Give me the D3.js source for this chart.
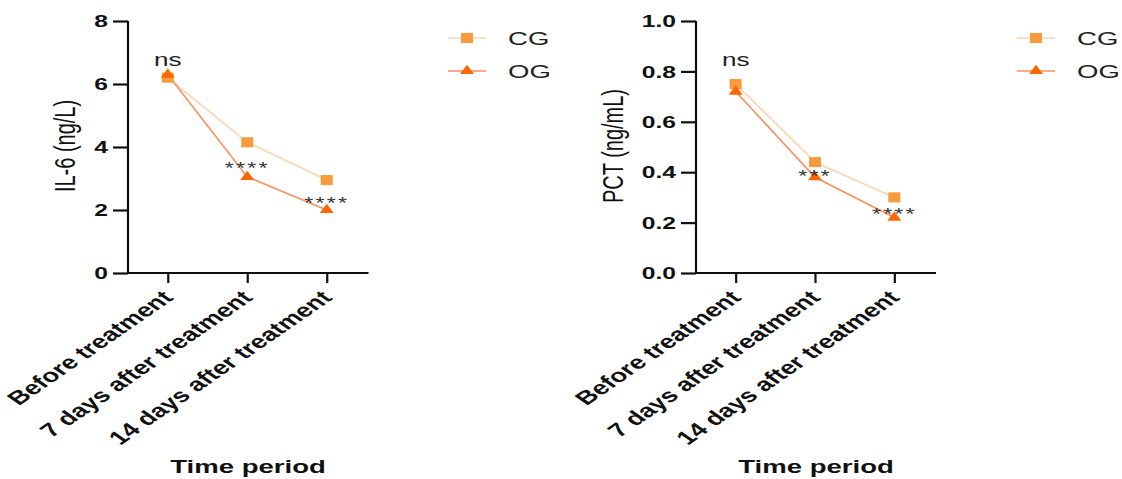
<!DOCTYPE html>
<html>
<head>
<meta charset="utf-8">
<script src="https://cdn.jsdelivr.net/npm/d3@7"></script>
<style>
  html, body { margin: 0; padding: 0; background: #fff; }
  svg { display: block; font-family: "Liberation Sans", Arial, sans-serif; }
</style>
</head>
<body>
<svg id="chart" width="1122" height="479"></svg>
<script>
// ---- data ----
const categories = ["Before treatment", "7 days after treatment", "14 days after treatment"];
const seriesNames = ["CG", "OG"];
const il6CG = [6.2, 4.15, 2.95];
const il6OG = [6.3, 3.05, 2.0];
const pctCG = [0.75, 0.44, 0.30];
const pctOG = [0.72, 0.38, 0.22];
const il6Ticks = [0, 2, 4, 6, 8];
const pctTicks = [0, 0.2, 0.4, 0.6, 0.8, 1.0];
const il6Sig = ["ns", "****", "****"];
const pctSig = ["ns", "***", "****"];
const xTitle = "Time period";

const SX = 1.45; // horizontal stretch of the reference raster
const colors = {
  CG: { line: "#FCD3AC", marker: "#F99A3C" },
  OG: { line: "#F88F5E", marker: "#FF6600" }
};

const svg = d3.select("#chart");

function stretchedText(g, x, y, str, opts) {
  const grp = g.append("g").attr("transform", `translate(${x},${y}) scale(${SX},1)` + (opts.rotate ? ` rotate(${opts.rotate})` : ""));
  const t = grp.append("text")
    .attr("x", 0).attr("y", 0)
    .attr("text-anchor", opts.anchor || "start")
    .attr("font-size", opts.size)
    .attr("font-weight", opts.weight || "normal")
    .attr("fill", opts.fill || "#111")
    .text(str);
  if (opts.dy) t.attr("dy", opts.dy);
  if (opts.ls) t.attr("letter-spacing", opts.ls);
  return t;
}

function panel(cfg) {
  const g = svg.append("g");
  const x = d3.scalePoint().domain(categories).range([cfg.x0, cfg.x1]).padding(0.5);
  const y = d3.scaleLinear().domain([cfg.ticks[0], cfg.ticks[cfg.ticks.length - 1]]).range([273, 21]);

  // y axis (tick labels drawn separately for stretching)
  const yAxis = d3.axisLeft(y).tickValues(cfg.ticks).tickSize(15).tickFormat("");
  const ya = g.append("g").attr("transform", `translate(${cfg.x0},0)`).call(yAxis);
  ya.select(".domain").attr("stroke", "#111").attr("stroke-width", 2.2).attr("d", `M0,${y.range()[1]}V${y.range()[0]}`);
  ya.selectAll(".tick line").attr("stroke", "#111").attr("stroke-width", 2.2);
  cfg.ticks.forEach(v => {
    stretchedText(g, cfg.x0 - 20, y(v), cfg.fmt(v), { anchor: "end", size: 17, weight: "bold", dy: "0.36em" });
  });

  // x axis
  const xAxis = d3.axisBottom(x).tickSize(10).tickFormat("");
  const xa = g.append("g").attr("transform", `translate(0,273)`).call(xAxis);
  xa.select(".domain").attr("stroke", "#111").attr("stroke-width", 2.2).attr("d", `M${cfg.x0 - 1},0H${cfg.x1 + 2}`);
  xa.selectAll(".tick line").attr("stroke", "#111").attr("stroke-width", 2.2);
  categories.forEach(c => {
    stretchedText(g, x(c) - 3, 292, c, { anchor: "end", size: 19, weight: "bold", rotate: -45, dy: "0.5em" });
  });

  // axis titles
  stretchedText(g, cfg.ytX, 146, cfg.yTitle, { anchor: "middle", size: 20, rotate: -90, dy: "0.35em" });
  stretchedText(g, cfg.xtX, 473, xTitle, { anchor: "middle", size: 19, weight: "bold" });

  // lines & markers
  const data = { CG: cfg.cg, OG: cfg.og };
  const line = d3.line().x((d, i) => x(categories[i])).y(d => y(d));
  seriesNames.forEach(s => {
    g.append("path").datum(data[s]).attr("d", line)
      .attr("fill", "none").attr("stroke", colors[s].line).attr("stroke-width", 1.6);
  });
  // CG squares
  g.selectAll(null).data(cfg.cg).enter().append("rect")
    .attr("x", (d, i) => x(categories[i]) - 6).attr("y", d => y(d) - 5)
    .attr("width", 12).attr("height", 10).attr("fill", colors.CG.marker);
  // OG triangles
  const tri = d3.symbol().type(d3.symbolTriangle).size(50);
  g.selectAll(null).data(cfg.og).enter().append("path")
    .attr("d", tri)
    .attr("transform", (d, i) => `translate(${x(categories[i])},${y(d)}) scale(1.3,1)`)
    .attr("fill", colors.OG.marker);

  // significance labels
  cfg.sig.forEach((s, i) => {
    const c = categories[i];
    if (s === "ns") {
      stretchedText(g, x(c), 66, s, { anchor: "middle", size: 18, fill: "#222" });
    } else {
      stretchedText(g, x(c), cfg.starY[i] + 9, s, { anchor: "middle", size: 16, fill: "#333", ls: 1.5 });
    }
  });

  // legend
  seriesNames.forEach((s, i) => {
    const ly = 38 + i * 33;
    g.append("line").attr("x1", cfg.lgX).attr("x2", cfg.lgX + 38).attr("y1", ly).attr("y2", ly)
      .attr("stroke", colors[s].line).attr("stroke-width", 1.6);
    if (s === "CG") {
      g.append("rect").attr("x", cfg.lgX + 19 - 6).attr("y", ly - 5).attr("width", 12).attr("height", 10).attr("fill", colors.CG.marker);
    } else {
      g.append("path").attr("d", tri).attr("transform", `translate(${cfg.lgX + 19},${ly}) scale(1.3,1)`).attr("fill", colors.OG.marker);
    }
    stretchedText(g, cfg.lgX + 60, ly + 7, s, { anchor: "start", size: 19, fill: "#222" });
  });
}

panel({
  x0: 128, x1: 366.5, ticks: il6Ticks, fmt: d3.format("d"),
  cg: il6CG, og: il6OG, sig: il6Sig, starY: [0, 165, 200],
  yTitle: "IL-6 (ng/L)", ytX: 65, xtX: 248, lgX: 448
});
panel({
  x0: 696, x1: 934, ticks: pctTicks, fmt: d3.format(".1f"),
  cg: pctCG, og: pctOG, sig: pctSig, starY: [0, 173, 211],
  yTitle: "PCT (ng/mL)", ytX: 613, xtX: 816, lgX: 1017
});
</script>
</body>
</html>
